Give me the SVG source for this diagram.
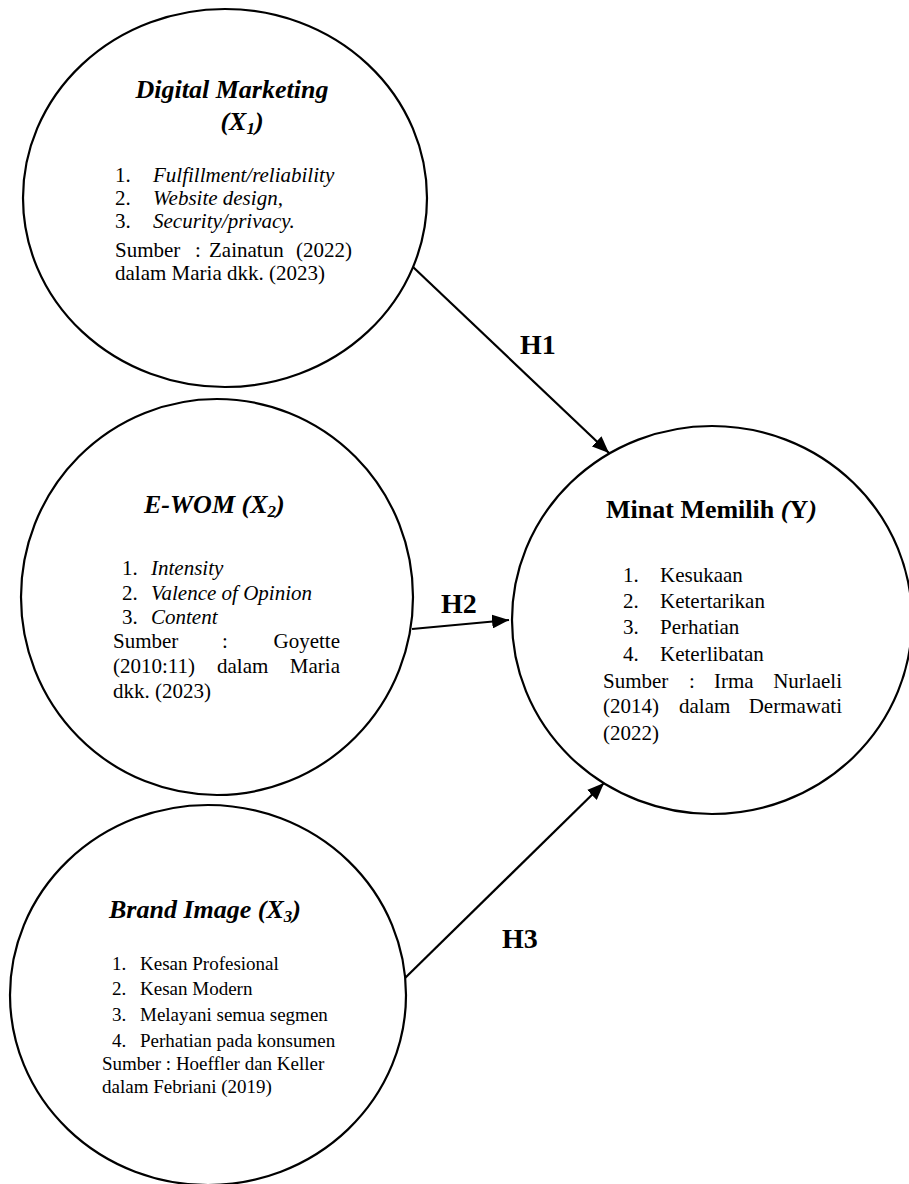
<svg xmlns="http://www.w3.org/2000/svg" width="909" height="1184" viewBox="0 0 909 1184">
<style>
.node{fill:#fff;stroke:#000;stroke-width:2.2}
.t{font-family:"Liberation Serif","Times New Roman",serif;fill:#000}
.title{font-size:26px;font-weight:bold;font-style:italic}
.body{font-size:21px}
.small{font-size:19px}
.it{font-style:italic}
.lbl{font-family:"Liberation Serif","Times New Roman",serif;font-size:28px;font-weight:bold;fill:#000}
.conn{stroke:#000;stroke-width:2.2;fill:none}
</style>
<defs>
<marker id="ah" markerUnits="userSpaceOnUse" markerWidth="18" markerHeight="14" refX="17" refY="7" orient="auto">
<path d="M0,0 L17,7 L0,14 Z" fill="#000"/>
</marker>
</defs>
<rect width="909" height="1184" fill="#fff"/>

<g id="connectors">
<line class="conn" x1="413" y1="267" x2="609" y2="453" marker-end="url(#ah)"/>
<line class="conn" x1="412" y1="629" x2="509" y2="620" marker-end="url(#ah)"/>
<line class="conn" x1="403" y1="980" x2="604" y2="783" marker-end="url(#ah)"/>
<text class="lbl" x="520" y="354">H1</text>
<text class="lbl" x="441" y="613">H2</text>
<text class="lbl" x="502" y="948">H3</text>
</g>

<g id="node-x1">
<ellipse class="node" cx="225" cy="198" rx="202" ry="189"/>
<text class="t title" x="232" y="98" text-anchor="middle">Digital Marketing</text>
<text class="t title" x="242" y="130" text-anchor="middle">(X<tspan font-size="17" dy="4">1</tspan><tspan dy="-4">)</tspan></text>
<text class="t body" x="115" y="182">1.</text><text class="t body it" x="153" y="182">Fulfillment/reliability</text>
<text class="t body" x="115" y="205">2.</text><text class="t body it" x="153" y="205">Website design,</text>
<text class="t body" x="115" y="228">3.</text><text class="t body it" x="153" y="228">Security/privacy.</text>
<text class="t body" x="115" y="257">Sumber</text><text class="t body" x="195" y="257">:</text><text class="t body" x="209" y="257">Zainatun</text><text class="t body" x="352" y="257" text-anchor="end">(2022)</text>
<text class="t body" x="115" y="280">dalam Maria dkk. (2023)</text>
</g>

<g id="node-x2">
<ellipse class="node" cx="217" cy="597" rx="196" ry="198"/>
<text class="t title" x="144" y="513">E-WOM (X<tspan font-size="17" dy="4">2</tspan><tspan dy="-4">)</tspan></text>
<text class="t body" x="122" y="575">1.</text><text class="t body it" x="151" y="575">Intensity</text>
<text class="t body" x="122" y="600">2.</text><text class="t body it" x="151" y="600">Valence of Opinion</text>
<text class="t body" x="122" y="624">3.</text><text class="t body it" x="151" y="624">Content</text>
<text class="t body" x="113" y="648">Sumber</text><text class="t body" x="222" y="648">:</text><text class="t body" x="340" y="648" text-anchor="end">Goyette</text>
<text class="t body" x="113" y="673">(2010:11)</text><text class="t body" x="217" y="673">dalam</text><text class="t body" x="340" y="673" text-anchor="end">Maria</text>
<text class="t body" x="113" y="698">dkk. (2023)</text>
</g>

<g id="node-x3">
<ellipse class="node" cx="208" cy="995" rx="198" ry="190"/>
<text class="t title" x="109" y="918">Brand Image (X<tspan font-size="17" dy="4">3</tspan><tspan dy="-4">)</tspan></text>
<text class="t small" x="112" y="970">1.</text><text class="t small" x="140" y="970">Kesan Profesional</text>
<text class="t small" x="112" y="995">2.</text><text class="t small" x="140" y="995">Kesan Modern</text>
<text class="t small" x="112" y="1021">3.</text><text class="t small" x="140" y="1021">Melayani semua segmen</text>
<text class="t small" x="112" y="1047">4.</text><text class="t small" x="140" y="1047">Perhatian pada konsumen</text>
<text class="t small" x="102" y="1070">Sumber : Hoeffler dan Keller</text>
<text class="t small" x="102" y="1093">dalam Febriani (2019)</text>
</g>

<g id="node-y">
<ellipse class="node" cx="712" cy="620" rx="200" ry="194"/>
<text class="t" x="606" y="518" font-size="26" font-weight="bold">Minat Memilih <tspan font-style="italic">(</tspan>Y<tspan font-style="italic">)</tspan></text>
<text class="t body" x="623" y="582">1.</text><text class="t body" x="660" y="582">Kesukaan</text>
<text class="t body" x="623" y="608">2.</text><text class="t body" x="660" y="608">Ketertarikan</text>
<text class="t body" x="623" y="634">3.</text><text class="t body" x="660" y="634">Perhatian</text>
<text class="t body" x="623" y="661">4.</text><text class="t body" x="660" y="661">Keterlibatan</text>
<text class="t body" x="603" y="688">Sumber</text><text class="t body" x="689" y="688">:</text><text class="t body" x="714" y="688">Irma</text><text class="t body" x="842" y="688" text-anchor="end">Nurlaeli</text>
<text class="t body" x="603" y="713">(2014)</text><text class="t body" x="679" y="713">dalam</text><text class="t body" x="842" y="713" text-anchor="end">Dermawati</text>
<text class="t body" x="603" y="740">(2022)</text>
</g>
</svg>
